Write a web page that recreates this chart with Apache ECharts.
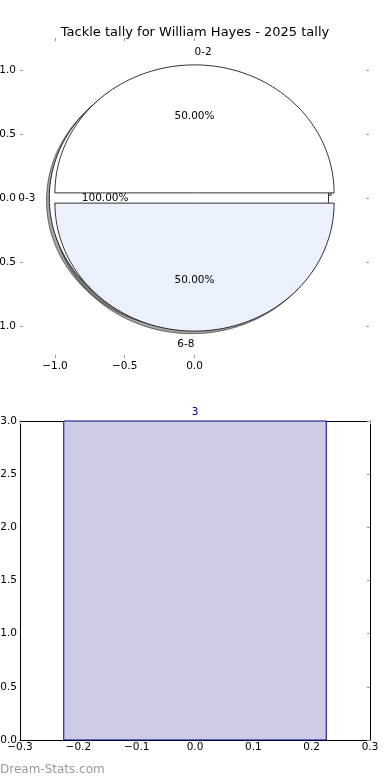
<!DOCTYPE html>
<html><head><meta charset="utf-8">
<script src="https://cdn.jsdelivr.net/npm/echarts@6/dist/echarts.min.js"></script>
<style>html,body{margin:0;padding:0;background:#fff}#c{width:390px;height:780px}</style>
</head><body><div id="c"></div>
<script>
// ---------- data ----------
const titleText = 'Tackle tally for William Hayes - 2025 tally';
const pieCategories = ['0-2', '0-3', '6-8'];
const pieValues = [1, 0, 1];
const piePctLabels = ['50.00%', '100.00%', '50.00%'];
const pieXTickValues = [-1, -0.5, 0];
const pieYTickValues = [-1, -0.5, 0, 0.5, 1];
const barPositions = [0];
const barValues = [3];
const barLabels = ['3'];
const watermark = 'Dream-Stats.com';

// ---------- styles / geometry constants ----------
const FONT = 'DejaVu Sans';
const SLICE_FILL = ['#ffffff', '#ffffff', '#eaf0fc'];
const EXPLODE = 0.04;
const SHADOW_OFF = -0.02;
const BAR_W = 0.45;

const total = pieValues.reduce((a, b) => a + b, 0);
const angles = [];
{ let c = 0; pieValues.forEach(v => { const a1 = c / total * 360; c += v; angles.push([a1, c / total * 360]); }); }
const rad = d => d * Math.PI / 180;
// a zero-span wedge is drawn as a full disc (as the original renderer did)
const isFull = i => angles[i][1] - angles[i][0] <= 0;
function slicePts(i, dx, dy) {
  const [a1, a2] = angles[i];
  const m = rad((a1 + a2) / 2);
  const cx = EXPLODE * Math.cos(m) + dx, cy = EXPLODE * Math.sin(m) + dy;
  const pts = [];
  if (isFull(i)) {
    for (let k = 0; k < 180; k++) { const t = rad(k * 2); pts.push([cx + Math.cos(t), cy + Math.sin(t)]); }
    return pts;
  }
  pts.push([cx, cy]);
  const n = Math.max(2, Math.ceil((a2 - a1) / 2));
  for (let k = 0; k <= n; k++) { const t = rad(a1 + (a2 - a1) * k / n); pts.push([cx + Math.cos(t), cy + Math.sin(t)]); }
  return pts;
}
const fmt = v => (v < 0 ? '\u2212' : '') + Math.abs(v).toFixed(1);
const tickStyle = { show: true, inside: true, length: 3, lineStyle: { color: '#999', width: 1 } };
const noLine = { show: false, onZero: false };
const boxLine = { show: true, onZero: false, lineStyle: { color: '#000', width: 1 } };

const chart = echarts.init(document.getElementById('c'), null, { renderer: 'canvas' });
chart.setOption({
  animation: false,
  backgroundColor: '#fff',
  title: { text: titleText, left: 'center', top: 21, textStyle: { fontFamily: FONT, fontSize: 13, fontWeight: 'normal', color: '#000' } },
  grid: [
    { left: 20, right: 21, top: 38, bottom: 422, outerBoundsMode: 'none', containLabel: false },
    { left: 20, right: 20, top: 421, bottom: 40, outerBoundsMode: 'none', containLabel: false }
  ],
  xAxis: [
    { gridIndex: 0, type: 'value', min: -1.25, max: 1.25, position: 'bottom', splitLine: { show: false }, axisLine: noLine,
      axisTick: Object.assign({ customValues: pieXTickValues }, tickStyle),
      axisLabel: { customValues: pieXTickValues, formatter: fmt, margin: 3, fontFamily: FONT, fontSize: 10.5, color: '#000' } },
    { gridIndex: 0, type: 'value', min: -1.25, max: 1.25, position: 'top', splitLine: { show: false }, axisLine: noLine,
      axisTick: Object.assign({ customValues: pieXTickValues }, tickStyle), axisLabel: { show: false } },
    { gridIndex: 1, type: 'value', min: -0.3, max: 0.3, interval: 0.1, position: 'bottom', splitLine: { show: false },
      axisLine: boxLine, axisTick: { show: false },
      axisLabel: { formatter: fmt, margin: 2, fontFamily: FONT, fontSize: 10.5, color: '#000', showMinLabel: true, showMaxLabel: true } },
    { gridIndex: 1, type: 'value', min: -0.3, max: 0.3, interval: 0.1, position: 'top', splitLine: { show: false },
      axisLine: boxLine, axisTick: tickStyle, axisLabel: { show: false } }
  ],
  yAxis: [
    { gridIndex: 0, type: 'value', min: -1.25, max: 1.25, position: 'left', splitLine: { show: false }, axisLine: noLine,
      axisTick: Object.assign({ customValues: pieYTickValues }, tickStyle),
      axisLabel: { customValues: pieYTickValues, formatter: fmt, margin: 4, fontFamily: FONT, fontSize: 10.5, color: '#000' } },
    { gridIndex: 0, type: 'value', min: -1.25, max: 1.25, position: 'right', splitLine: { show: false }, axisLine: noLine,
      axisTick: Object.assign({ customValues: pieYTickValues }, tickStyle), axisLabel: { show: false } },
    { gridIndex: 1, type: 'value', min: 0, max: 3, interval: 0.5, position: 'left', splitLine: { show: false },
      axisLine: boxLine, axisTick: { show: false },
      axisLabel: { formatter: fmt, margin: 3, fontFamily: FONT, fontSize: 10.5, color: '#000' } },
    { gridIndex: 1, type: 'value', min: 0, max: 3, interval: 0.5, position: 'right', splitLine: { show: false },
      axisLine: boxLine, axisTick: tickStyle, axisLabel: { show: false } }
  ],
  series: [
    { // shadows
      type: 'custom', xAxisIndex: 0, yAxisIndex: 0, clip: false, silent: true, z: 1,
      data: pieCategories.map((c, i) => [i, 0]),
      renderItem: (params, api) => {
        const i = params.dataIndex;
        return { type: 'polygon', shape: { points: slicePts(i, SHADOW_OFF, SHADOW_OFF).map(p => api.coord(p)) },
          style: { fill: 'rgba(77,77,77,0.5)', stroke: 'rgba(60,60,60,0.7)', lineWidth: 1 } };
      }
    },
    { // slices
      type: 'custom', xAxisIndex: 0, yAxisIndex: 0, clip: false, silent: true, z: 2,
      data: pieCategories.map((c, i) => [i, 0]),
      renderItem: (params, api) => {
        const i = params.dataIndex;
        return { type: 'polygon', z2: isFull(i) ? 1 : 5, shape: { points: slicePts(i, 0, 0).map(p => api.coord(p)) },
          style: { fill: SLICE_FILL[i], stroke: '#000', lineWidth: 0.8 } };
      }
    },
    { // labels
      type: 'custom', xAxisIndex: 0, yAxisIndex: 0, clip: false, silent: true, z: 3,
      data: pieCategories.map((c, i) => [i, 0]),
      renderItem: (params, api) => {
        const i = params.dataIndex;
        const m = rad((angles[i][0] + angles[i][1]) / 2);
        const lx = (EXPLODE + 1.1) * Math.cos(m), ly = (EXPLODE + 1.1) * Math.sin(m);
        const px = (EXPLODE + 0.6) * Math.cos(m), py = (EXPLODE + 0.6) * Math.sin(m);
        const a = api.coord([lx, ly]), b = api.coord([px, py]);
        return { type: 'group', children: [
          { type: 'text', x: a[0], y: a[1], style: { text: pieCategories[i], fill: '#000', font: '10.5px "' + FONT + '"', align: lx > 0 ? 'left' : 'right', verticalAlign: 'middle' } },
          { type: 'text', x: b[0], y: b[1], style: { text: piePctLabels[i], fill: '#000', font: '10.5px "' + FONT + '"', align: 'center', verticalAlign: 'middle' } }
        ] };
      }
    },
    { // bars
      type: 'custom', xAxisIndex: 2, yAxisIndex: 2, clip: false, z: 2,
      data: barPositions.map((x, i) => [x, barValues[i]]),
      renderItem: (params, api) => {
        const i = params.dataIndex;
        const x = api.value(0), v = api.value(1);
        const p0 = api.coord([x - BAR_W / 2, 0]), p1 = api.coord([x + BAR_W / 2, v]);
        const top = api.coord([x, v]);
        return { type: 'group', children: [
          { type: 'rect', shape: { x: p0[0], y: p1[1], width: p1[0] - p0[0], height: p0[1] - p1[1] },
            style: { fill: '#ccccE5', stroke: '#000080', lineWidth: 1 } },
          { type: 'text', x: top[0], y: top[1] - 9, style: { text: barLabels[i], fill: '#000080', font: '10.5px "' + FONT + '"', align: 'center', verticalAlign: 'middle' } }
        ] };
      }
    }
  ],
  graphic: [
    { type: 'text', left: 0, top: 764, style: { text: watermark, fill: '#999', font: '12px "' + FONT + '"' } }
  ]
});
</script>
</body></html>
